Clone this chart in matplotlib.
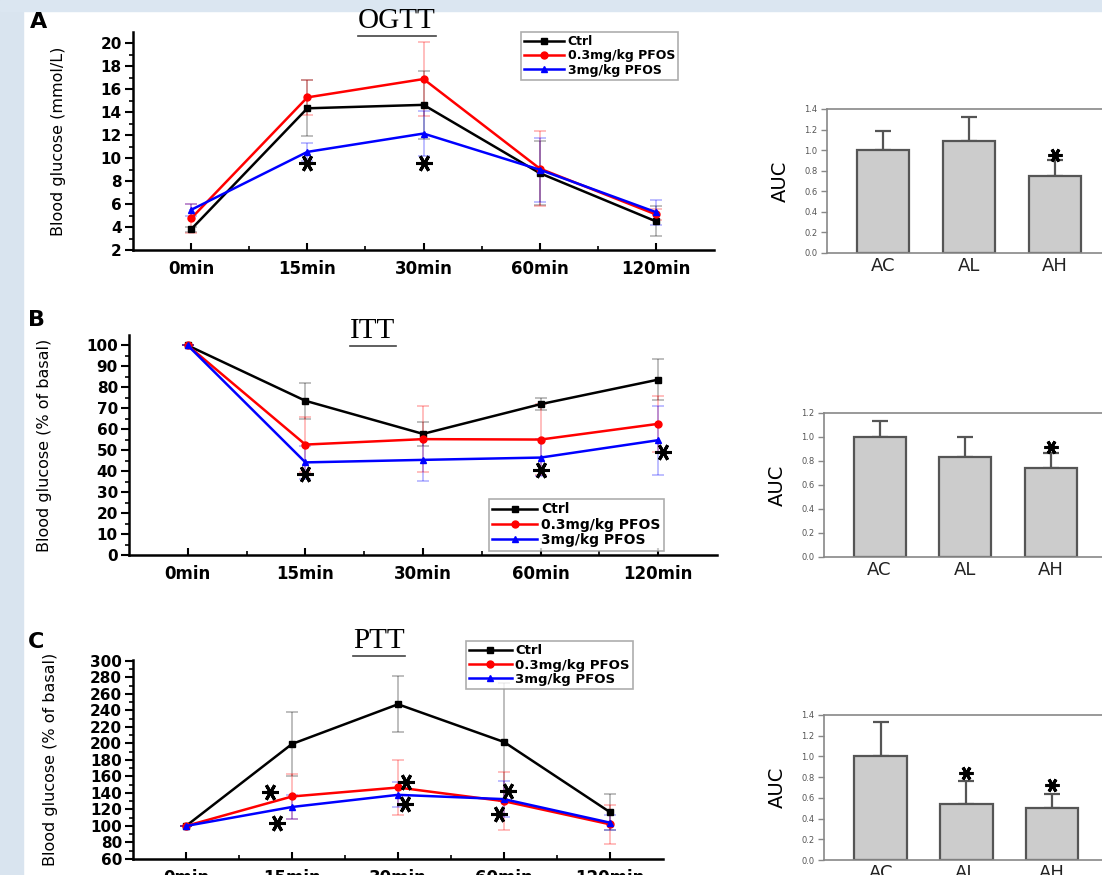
import matplotlib
matplotlib.use("Agg")
import matplotlib.pyplot as plt
from matplotlib.patches import Rectangle
from matplotlib.lines import Line2D

plt.rcParams['font.family'] = ['DejaVu Sans']

# ── Data ──
times = ['0min', '15min', '30min', '60min', '120min']
groups = ['Ctrl', '0.3mg/kg PFOS', '3mg/kg PFOS']

ogtt_ctrl = [3.8, 14.35, 14.65, 8.7, 4.5]
ogtt_ctrl_sd = [0.2, 2.45, 2.95, 2.8, 1.3]
ogtt_low = [4.75, 15.3, 16.9, 9.1, 5.1]
ogtt_low_sd = [1.25, 1.5, 3.2, 3.3, 0.5]
ogtt_high = [5.5, 10.55, 12.15, 9.0, 5.3]
ogtt_high_sd = [0.5, 0.8, 1.95, 2.8, 1.1]
ogtt_star_x = [1, 2]
ogtt_star_y = [9.6, 9.6]

itt_ctrl = [100, 73.6, 57.8, 72.0, 83.7]
itt_ctrl_sd = [0, 8.5, 5.6, 3.0, 9.9]
itt_low = [100, 52.7, 55.3, 55.1, 62.6]
itt_low_sd = [0, 13.3, 15.7, 17.0, 13.3]
itt_high = [100, 44.2, 45.4, 46.5, 54.8]
itt_high_sd = [0, 8.0, 10.0, 9.0, 16.4]
itt_star_x = [1, 3, 4.04]
itt_star_y = [38.8, 40.4, 49.2]

ptt_ctrl = [100, 199.3, 247.4, 201.7, 116.7]
ptt_ctrl_sd = [0, 38.4, 34.0, 72.0, 21.8]
ptt_low = [100, 135.7, 146.6, 130.0, 102.0]
ptt_low_sd = [0, 26.7, 32.8, 35.0, 23.5]
ptt_high = [100, 123.0, 137.7, 132.5, 104.0]
ptt_high_sd = [0, 14.4, 15.0, 21.5, 9.2]
ptt_star_x = [0.79, 0.86, 2.08, 2.07, 3.04, 2.95]
ptt_star_y = [141.4, 103.7, 153.5, 126.4, 142.0, 115.0]

auc_groups = ['AC', 'AL', 'AH']
ogtt_auc = [1.0, 1.09, 0.75]
ogtt_auc_err = [0.19, 0.23, 0.15]
ogtt_auc_star_x = [2]
ogtt_auc_star_y = [0.95]
itt_auc = [1.0, 0.83, 0.74]
itt_auc_err = [0.136, 0.166, 0.125]
itt_auc_star_x = [2]
itt_auc_star_y = [0.92]
ptt_auc = [1.0, 0.537, 0.501]
ptt_auc_err = [0.33, 0.226, 0.139]
ptt_auc_star_x = [1, 2]
ptt_auc_star_y = [0.84, 0.72]

W, H = 1102, 875
fig = plt.figure(figsize=(W / 100, H / 100), dpi=100)

# light blue slide background strips
fig.patches.append(Rectangle((0, 0), 23 / W, 1, transform=fig.transFigure,
                             color='#d9e4ef', zorder=0))
fig.patches.append(Rectangle((0, 1 - 11 / H), 1, 11 / H, transform=fig.transFigure,
                             color='#dbe6f1', zorder=0))

titles = []


def px_axes(l, t, r, b):
    return fig.add_axes([l / W, 1 - b / H, (r - l) / W, (b - t) / H])


STAR = dict(marker=(6, 2, 90), color='black', markersize=12, mew=2.2, ls='none')


def line_panel(box, series, sds, ylim, major, minor, ylabel, label_x,
               star_x, star_y, title, title_xy, letter, letter_xy, leg_xy, leg_fs):
    ax = px_axes(*box)
    x = list(range(len(times)))
    colors = ['black', 'red', 'blue']
    markers = ['s', 'o', '^']
    for vals, sd, c, m, g in zip(series, sds, colors, markers, groups):
        ax.errorbar(x, vals, yerr=sd, fmt='none', ecolor=c, alpha=0.3,
                    elinewidth=1.2, capsize=4, capthick=1.2, zorder=2)
        ax.plot(x, vals, color=c, marker=m, markersize=5, lw=1.8, label=g, zorder=3)
    ax.plot(star_x, star_y, **STAR, zorder=4)
    ax.set_xlim(-0.5, 4.5)
    ax.set_ylim(*ylim)
    ax.set_xticks(x)
    ax.set_xticklabels(times)
    ax.set_xticks([i + 0.5 for i in x[:-1]], minor=True)
    ax.set_yticks(major)
    ax.set_yticks(minor, minor=True)
    for s in ['top', 'right']:
        ax.spines[s].set_visible(False)
    for s in ['left', 'bottom']:
        ax.spines[s].set_linewidth(1.8)
    ax.tick_params(axis='y', which='major', direction='out', length=6, width=1.5,
                   labelsize=11, pad=2)
    ax.tick_params(axis='y', which='minor', direction='out', length=3, width=1.2)
    ax.tick_params(axis='x', which='major', direction='in', length=5, width=1.5,
                   labelsize=12, pad=7)
    ax.tick_params(axis='x', which='minor', direction='in', length=3, width=1.2)
    for lab in ax.get_xticklabels() + ax.get_yticklabels():
        lab.set_fontweight('bold')
    ax.set_ylabel(ylabel, fontsize=11.5)
    ax.yaxis.set_label_coords((label_x - box[0]) / (box[2] - box[0]), 0.5)
    t = fig.text(title_xy[0] / W, 1 - title_xy[1] / H, title, ha='center', va='center',
                 fontsize=21, family='Liberation Serif')
    titles.append(t)
    fig.text(letter_xy[0] / W, 1 - letter_xy[1] / H, letter, ha='center', va='center',
             fontsize=16, fontweight='bold')
    leg = ax.legend(loc='upper left', bbox_to_anchor=(leg_xy[0] / W, 1 - leg_xy[1] / H),
                    bbox_transform=fig.transFigure, fontsize=leg_fs, frameon=True,
                    fancybox=False, handlelength=3.2, handletextpad=0.3,
                    borderpad=0.25, labelspacing=0.1, borderaxespad=0)
    leg.get_frame().set_edgecolor('#999999')
    leg.get_frame().set_linewidth(1.2)
    for lt in leg.get_texts():
        lt.set_fontweight('bold')
    return ax


def bar_panel(box, vals, errs, ymax, star_x, star_y, xlim):
    ax = px_axes(*box)
    x = list(range(len(auc_groups)))
    ax.bar(x, vals, width=0.61, color='#cccccc', edgecolor='#555555', linewidth=1.6, zorder=2)
    ax.errorbar(x, vals, yerr=[[0] * len(errs), errs], fmt='none', ecolor='#555555',
                elinewidth=1.6, capsize=6, capthick=1.6, zorder=1)
    ax.plot(star_x, star_y, **dict(STAR, markersize=10), zorder=3)
    ax.set_xlim(*xlim)
    ax.set_ylim(0, ymax)
    ax.set_yticks([round(i * 0.2, 1) for i in range(int(round(ymax / 0.2)) + 1)])
    ax.set_xticks(x)
    ax.set_xticklabels(auc_groups)
    ax.spines['right'].set_visible(False)
    for s in ['left', 'top', 'bottom']:
        ax.spines[s].set_color('#888888')
        ax.spines[s].set_linewidth(1.2)
    ax.tick_params(axis='y', direction='out', length=4, width=1, color='#888888',
                   labelsize=6, labelcolor='#555555', pad=3)
    ax.tick_params(axis='x', length=0, labelsize=13, pad=3, labelcolor='#222222')
    ax.set_ylabel('AUC', fontsize=14, labelpad=10)
    return ax


line_panel((133, 32, 714, 250), [ogtt_ctrl, ogtt_low, ogtt_high],
           [ogtt_ctrl_sd, ogtt_low_sd, ogtt_high_sd], (2, 21),
           list(range(2, 21, 2)), list(range(3, 21, 2)),
           'Blood glucose (mmol/L)', 66, ogtt_star_x, ogtt_star_y,
           'OGTT', (397, 21), 'A', (39, 22), (521, 32), 9)

line_panel((129, 335, 717, 555), [itt_ctrl, itt_low, itt_high],
           [itt_ctrl_sd, itt_low_sd, itt_high_sd], (0, 105),
           list(range(0, 101, 10)), list(range(5, 101, 10)),
           'Blood glucose (% of basal)', 52, itt_star_x, itt_star_y,
           'ITT', (373, 331), 'B', (37, 320), (489, 499), 10)

line_panel((133, 660, 663, 859), [ptt_ctrl, ptt_low, ptt_high],
           [ptt_ctrl_sd, ptt_low_sd, ptt_high_sd], (60, 301),
           list(range(60, 301, 20)), list(range(70, 301, 20)),
           'Blood glucose (% of basal)', 58, ptt_star_x, ptt_star_y,
           'PTT', (379, 641), 'C', (36, 642), (466, 641), 9.5)

bar_panel((827, 109, 1102, 253), ogtt_auc, ogtt_auc_err, 1.4,
          ogtt_auc_star_x, ogtt_auc_star_y, (-0.65, 2.55))
bar_panel((824, 413, 1102, 557), itt_auc, itt_auc_err, 1.2,
          itt_auc_star_x, itt_auc_star_y, (-0.65, 2.6))
bar_panel((824, 715, 1102, 860), ptt_auc, ptt_auc_err, 1.4,
          ptt_auc_star_x, ptt_auc_star_y, (-0.66, 2.58))

# underline the serif titles
fig.canvas.draw()
inv = fig.transFigure.inverted()
for t in titles:
    bb = t.get_window_extent().transformed(inv)
    fig.add_artist(Line2D([bb.x0, bb.x1], [bb.y0 - 2 / H, bb.y0 - 2 / H],
                          color='#444444', lw=1.2, transform=fig.transFigure))

fig.savefig('out.png', dpi=100)
